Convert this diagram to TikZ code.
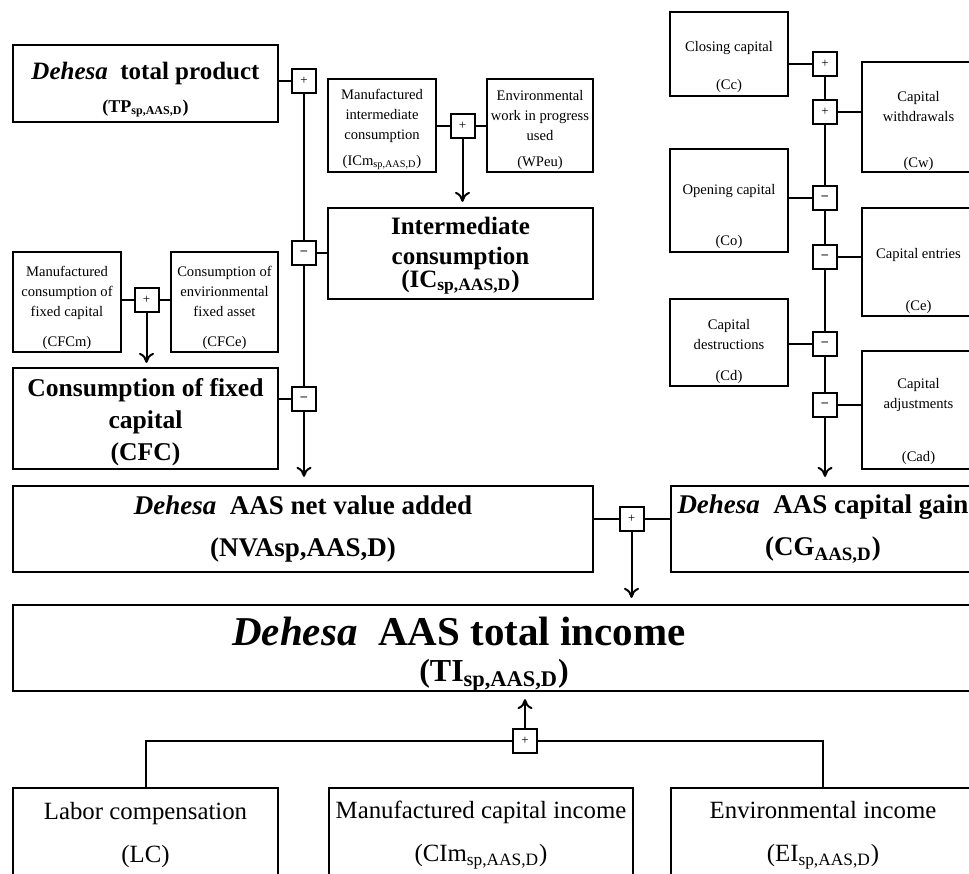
\documentclass[tikz,border=0pt]{standalone}
\usepackage{fontspec}
\setmainfont{Liberation Serif}
\usetikzlibrary{arrows.meta}

\begin{document}
\begin{tikzpicture}[x=0.5pt,y=-0.5pt,
		bigbox/.style={draw,line width=1.1pt,inner sep=0pt,align=center},
		smallbox/.style={draw,line width=0.8pt,inner sep=0pt,align=center,font=\fontsize{7.3}{10}\selectfont},
		sumsign/.style={draw,line width=1pt,minimum size=12pt,inner sep=0pt,font=\fontsize{6.5}{6.5}\selectfont},
		link/.style={line width=1pt},
		>={To[length=5pt,width=7.5pt]}]
		\useasboundingbox (0,0) rectangle (969,873);
		\clip (0,0) rectangle (969,873);

		\node [bigbox,minimum width=132.5pt,minimum height=38.5pt,font=\fontsize{9}{16.5}\selectfont\bfseries] (TP) at (145.5,83.5)
			{{\fontsize{12.5}{15}\selectfont\rule{0pt}{15pt}\textit{Dehesa}\ \ total product}\\(TP\textsubscript{sp,AAS,D})};
		\node [smallbox,minimum width=54pt,minimum height=46.5pt] (ICm) at (382,125.5)
			{\rule{0pt}{9.3pt}Manufactured\\intermediate\\consumption\\[3pt](ICm\textsubscript{sp,AAS,D})};
		\node [smallbox,minimum width=53pt,minimum height=46.5pt] (WPeu) at (540,125.5)
			{\rule{0pt}{9.3pt}Environmental\\work in progress\\used\\[3pt](WPeu)};
		\node [bigbox,minimum width=132.5pt,minimum height=45.5pt,font=\fontsize{12.5}{15}\selectfont\bfseries] (IC) at (460.5,253.5)
			{\rule{0pt}{11pt}Intermediate\\consumption\\[-3.5pt](IC\textsubscript{sp,AAS,D})};
		\node [smallbox,minimum width=54pt,minimum height=50pt] (CFCm) at (67,302)
			{\rule{0pt}{10.6pt}Manufactured\\consumption of\\fixed capital\\[5pt](CFCm)};
		\node [smallbox,minimum width=53.5pt,minimum height=50pt] (CFCe) at (224.5,302)
			{\rule{0pt}{10.6pt}Consumption of\\envirionmental\\fixed asset\\[5pt](CFCe)};
		\node [bigbox,minimum width=132.5pt,minimum height=50.5pt,font=\fontsize{12.8}{16}\selectfont\bfseries] (CFC) at (145.5,418.5)
			{\rule{0pt}{12.5pt}Consumption of fixed\\capital\\(CFC)};

		\node [smallbox,minimum width=59pt,minimum height=42pt] (Cc) at (729,54)
			{\rule{0pt}{18.3pt}Closing capital\\[9pt](Cc)};
		\node [smallbox,minimum width=56.5pt,minimum height=55pt] (Cw) at (918.5,117)
			{\rule{0pt}{18.8pt}Capital\\withdrawals\\[13pt](Cw)};
		\node [smallbox,minimum width=59pt,minimum height=51.5pt] (Co) at (729,200.5)
			{\rule{0pt}{21.3pt}Opening capital\\[15.5pt](Co)};
		\node [smallbox,minimum width=56.5pt,minimum height=54pt] (Ce) at (918.5,262)
			{\rule{0pt}{24.3pt}Capital entries\\[16pt](Ce)};
		\node [smallbox,minimum width=59pt,minimum height=43.5pt] (Cd) at (729,342.5)
			{\rule{0pt}{14.3pt}Capital\\destructions\\[5.7pt](Cd)};
		\node [smallbox,minimum width=56.5pt,minimum height=59pt] (Cad) at (918.5,410)
			{\rule{0pt}{16.8pt}Capital\\adjustments\\[16.5pt](Cad)};

		\node [bigbox,minimum width=290pt,minimum height=43pt,font=\fontsize{13.5}{21}\selectfont\bfseries] (NVA) at (303,529)
			{\textit{Dehesa}\ \ AAS net value added\\(NVAsp,AAS,D)};
		\node [bigbox,minimum width=152pt,minimum height=43pt,font=\fontsize{13.5}{21}\selectfont\bfseries] (CG) at (823,529)
			{\textit{Dehesa}\ \ AAS capital gain\\(CG\textsubscript{AAS,D})};
		\node [bigbox,minimum width=481pt,minimum height=43pt,font=\fontsize{16}{18}\selectfont\bfseries] (TI) at (494,648)
			{{\fontsize{20.5}{24}\selectfont\rule{0pt}{20pt}\textit{Dehesa}\ \ AAS total income\hspace*{35pt}}\\(TI\textsubscript{sp,AAS,D})};

		\node [bigbox,minimum width=132.5pt,minimum height=47pt,font=\fontsize{12.4}{21.5}\selectfont] (LC) at (145.5,835)
			{Labor compensation\\(LC)};
		\node [bigbox,minimum width=152pt,minimum height=47pt,font=\fontsize{12.4}{21.5}\selectfont] (CIm) at (481,835)
			{Manufactured capital income\\(CIm\textsubscript{sp,AAS,D})};
		\node [bigbox,minimum width=152pt,minimum height=47pt,font=\fontsize{12.4}{21.5}\selectfont] (EI) at (823,835)
			{Environmental income\\(EI\textsubscript{sp,AAS,D})};

		\node [sumsign] (sTP) at (304,81) {+};
		\node [sumsign] (sIC) at (304,253) {\textbf{--}};
		\node [sumsign] (sCFC) at (304,399) {\textbf{--}};
		\node [sumsign] (sICm) at (462.5,125.5) {+};
		\node [sumsign] (sCFCm) at (146.5,300) {+};
		\node [sumsign] (sCc) at (825,64) {+};
		\node [sumsign] (sCw) at (825,112) {+};
		\node [sumsign] (sCo) at (825,198) {\textbf{--}};
		\node [sumsign] (sCe) at (825,256.5) {\textbf{--}};
		\node [sumsign] (sCd) at (825,344) {\textbf{--}};
		\node [sumsign] (sCad) at (825,405) {\textbf{--}};
		\node [sumsign] (sNVA) at (631.5,519) {+};
		\node [sumsign] (sLC) at (525,740.5) {+};

		\draw [link] (TP.east |- sTP) -- (sTP) -- (sIC) -- (sCFC);
		\draw [link,->,shorten >=4pt] (sCFC) -- (sCFC |- NVA.north);
		\draw [link] (sIC) -- (sIC -| IC.west);
		\draw [link] (sCFC) -- (sCFC -| CFC.east);
		\draw [link] (ICm.east |- sICm) -- (sICm) -- (sICm -| WPeu.west);
		\draw [link,->,shorten >=2.5pt] (sICm) -- (sICm |- IC.north);
		\draw [link] (CFCm.east |- sCFCm) -- (sCFCm) -- (sCFCm -| CFCe.west);
		\draw [link,->,shorten >=2pt] (sCFCm) -- (sCFCm |- CFC.north);

		\draw [link] (Cc.east |- sCc) -- (sCc) -- (sCw) -- (sCo) -- (sCe) -- (sCd) -- (sCad);
		\draw [link] (sCw) -- (sCw -| Cw.west);
		\draw [link] (sCo) -- (sCo -| Co.east);
		\draw [link] (sCe) -- (sCe -| Ce.west);
		\draw [link] (sCd) -- (sCd -| Cd.east);
		\draw [link] (sCad) -- (sCad -| Cad.west);
		\draw [link,->,shorten >=4pt] (sCad) -- (sCad |- CG.north);

		\draw [link] (NVA.east |- sNVA) -- (sNVA) -- (sNVA -| CG.west);
		\draw [link,->,shorten >=3pt] (sNVA) -- (sNVA |- TI.north);
		\draw [link,->,shorten >=3.5pt] (sLC) -- (sLC |- TI.south);
		\draw [link] (sLC) -| (LC.north);
		\draw [link] (sLC) -| (EI.north);
	\end{tikzpicture}
\end{document}
